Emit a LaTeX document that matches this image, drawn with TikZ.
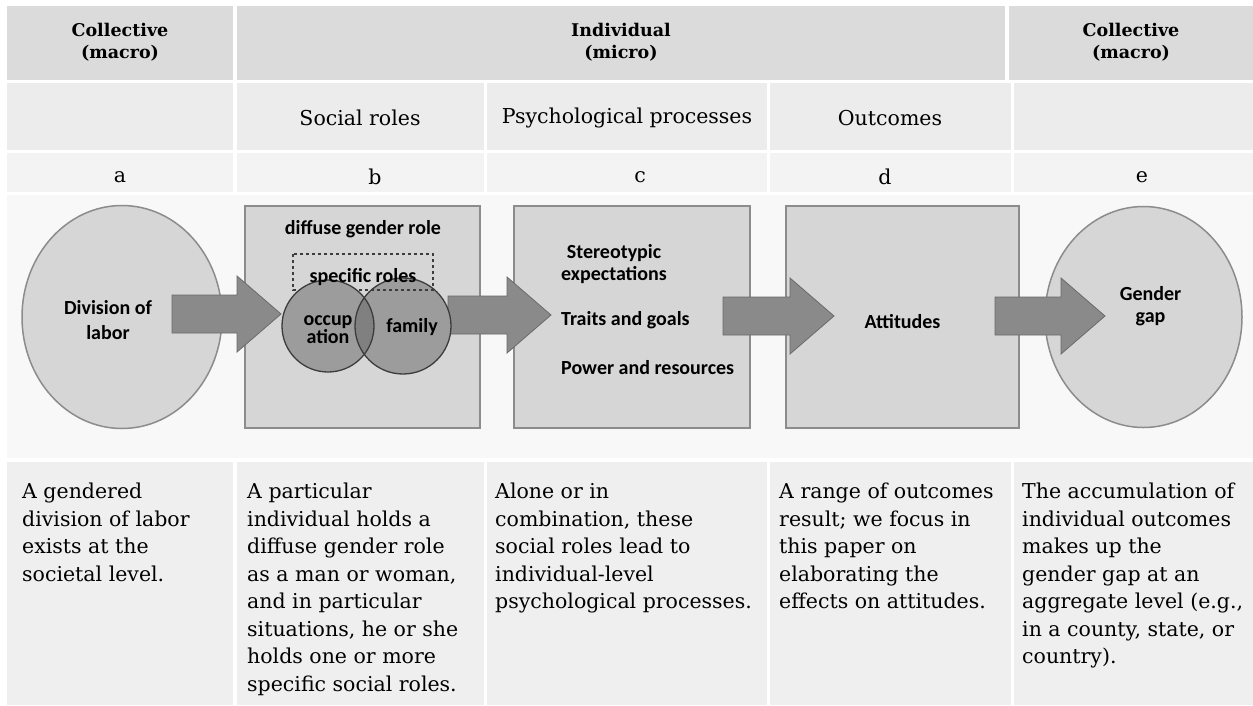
\documentclass[tikz,border=0pt]{standalone}
\usepackage{fontspec}
\setmainfont{DejaVu Serif}
\newfontfamily\calfont{Carlito}
\usetikzlibrary{calc, shapes.geometric}

\definecolor{headgray}{HTML}{DBDBDB}
\definecolor{subgray}{HTML}{ECECEC}
\definecolor{lettergray}{HTML}{F3F3F3}
\definecolor{diaggray}{HTML}{F8F8F8}
\definecolor{textgray}{HTML}{EFEFEF}
\definecolor{shapegray}{HTML}{D6D6D6}
\definecolor{edgegray}{HTML}{8C8C8C}
\definecolor{arrowgray}{HTML}{8A8A8A}
\definecolor{arrowedge}{HTML}{6A6A6A}
\definecolor{rolegray}{HTML}{9C9C9C}
\definecolor{overlapgray}{HTML}{808080}
\definecolor{roleedge}{HTML}{3C3C3C}

\begin{document}
\begin{tikzpicture}[
x=1pt, y=-1pt,
cell/.style={fill=#1, draw=none},
headtext/.style={
font=\bfseries\fontsize{17.5}{22}\selectfont,
align=center,
inner sep=0pt,
},
subtext/.style={font=\fontsize{20.5}{24}\selectfont, inner sep=0pt},
celltext/.style={
anchor=north west,
align=left,
inner sep=0pt,
font=\fontsize{20.5}{27.5}\selectfont,
},
shapebox/.style={draw=edgegray, line width=1.5pt, fill=shapegray},
rolecircle/.style={circle, inner sep=0pt},
boxlabel/.style={
font=\calfont\bfseries\fontsize{20}{22}\selectfont,
inner sep=0pt,
align=center,
},
blockarrow/.style={
draw=arrowedge, line width=0.8pt, fill=arrowgray,
to path={
let \p1=(\tikztostart), \p2=(\tikztotarget) in
(\x1,{\y1+19pt}) -- ({\x2-44pt},{\y1+19pt}) -- ({\x2-44pt},{\y1+38pt})
-- (\x2,\y1) -- ({\x2-44pt},{\y1-38pt}) -- ({\x2-44pt},{\y1-19pt})
-- (\x1,{\y1-19pt}) -- cycle
}
},
]

\useasboundingbox[fill=white] (0,0) rectangle (1253,705);

% table cells
\fill[cell=headgray] (7,6) rectangle (233,80);
\fill[cell=headgray] (237,6) rectangle (1005,80);
\fill[cell=headgray] (1009,6) rectangle (1253,80);
\foreach \xa/\xb in {7/233, 237/484, 487/767, 770/1011, 1014/1253} {
\fill[cell=subgray] (\xa,83) rectangle (\xb,150);
\fill[cell=lettergray] (\xa,153) rectangle (\xb,192);
\fill[cell=textgray] (\xa,462) rectangle (\xb,705);
}
\fill[cell=diaggray] (7,195) rectangle (1253,458);

% header texts
\path[every node/.style={headtext}]
(120,42) node (colla) {Collective\\(macro)}
(621,42) node (indiv) {Individual\\(micro)}
(1131,42) node (colle) {Collective\\(macro)}
;
\path[every node/.style={subtext}]
(360,118) node (roles) {Social roles}
(627,118) node (psych) {Psychological processes}
(890,118) node (outc) {Outcomes}
;
\path[every node/.style={subtext}]
(120,177) node (la) {a}
(375,177) node (lb) {b}
(640,177) node (lc) {c}
(885,177) node (ld) {d}
(1142,177) node (le) {e}
;

% diagram shapes
\node[shapebox, ellipse, minimum width=200pt, minimum height=223pt] (labor) at (122,317) {};
\node[shapebox, ellipse, minimum width=197pt, minimum height=221pt] (gap) at (1143.5,317) {};
\draw[shapebox] (245,206) rectangle (480,428);
\node[inner sep=0pt, minimum width=235pt, minimum height=222pt] (diffuse) at (362.5,317) {};
\draw[shapebox] (514,206) rectangle (750,428);
\node[inner sep=0pt, minimum width=236pt, minimum height=222pt] (psybox) at (632,317) {};
\draw[shapebox] (786,206) rectangle (1019,428);
\node[inner sep=0pt, minimum width=233pt, minimum height=222pt] (attbox) at (902.5,317) {};

% arrow ends
\path
(172,314) coordinate (a1s)  (281,314) coordinate (a1e)
(448,315) coordinate (a2s)  (551,315) coordinate (a2e)
(723,316) coordinate (a3s)  (834,316) coordinate (a3e)
(995,316) coordinate (a4s)  (1105,316) coordinate (a4e)
;
\draw[blockarrow] (a1s) to (a1e);
\draw[blockarrow] (a2s) to (a2e);
\draw[blockarrow] (a3s) to (a3e);
\draw[blockarrow] (a4s) to (a4e);

% specific roles
\node[rolecircle, fill=rolegray, minimum size=96pt] (family) at (403,326) {};
\draw[dashed, roleedge, line width=1.2pt] (293,254) rectangle (433,290);
\node[rolecircle, fill=rolegray, minimum size=92pt] (occup) at (328,326) {};
\begin{scope}
\clip (occup.center) circle (46pt);
\fill[overlapgray] (family.center) circle (48pt);
\end{scope}
\draw[roleedge, line width=1.3pt] (occup.center) circle (46pt) (family.center) circle (48pt);

% labels
\path[every node/.style={boxlabel}]
(labor) ++(-14,3) node[font=\calfont\bfseries\fontsize{20}{25}\selectfont] {Division of\\labor}
(gap) ++(7,-11) node {Gender\\gap}
(363,229) node {diffuse gender role}
(363,277) node {specific roles}
(occup) ++(0,4) node[font=\calfont\bfseries\fontsize{20}{17}\selectfont] {occup\\ation}
(family) ++(9,1) node {family}
(attbox) ++(0,5) node {Attitudes}
;
\path[every node/.style={boxlabel, anchor=west}]
(561,264) node {Stereotypic\\expectations}
(561,320) node {Traits and goals}
(561,368) node {Power and resources}
;

% description texts
\path[every node/.style={celltext}]
(22,483) node (ta) {A gendered\\division of labor\\exists at the\\societal level.}
(247,483) node (tb) {A particular\\individual holds a\\diffuse gender role\\as a man or woman,\\and in particular\\situations, he or she\\holds one or more\\specific social roles.}
(495,483) node (tc) {Alone or in\\combination, these\\social roles lead to\\individual-level\\psychological processes.}
(779,483) node (td) {A range of outcomes\\result; we focus in\\this paper on\\elaborating the\\effects on attitudes.}
(1022,483) node (te) {The accumulation of\\individual outcomes\\makes up the\\gender gap at an\\aggregate level (e.g.,\\in a county, state, or\\country).}
;

\end{tikzpicture}
\end{document}
